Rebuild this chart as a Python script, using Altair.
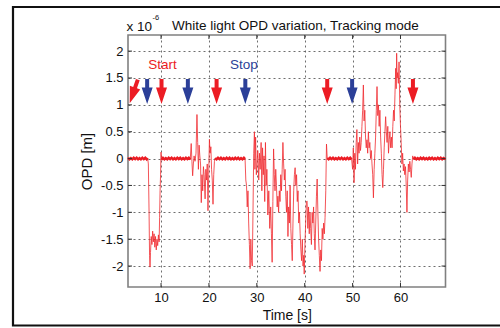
import altair as alt
import pandas as pd

# ---- data (OPD in units of 1e-6 m) ----
time_s = [
    3.1, 3.4, 3.7, 4.0, 4.3, 4.6, 4.9, 5.2, 5.5, 5.8, 6.1, 6.4, 6.7, 7.0, 7.2,
    7.35, 7.5, 7.6, 7.7, 7.8, 7.95, 8.1, 8.25, 8.4, 8.55, 8.7, 8.85, 9.0, 9.15, 9.3, 9.45, 9.6, 9.7, 9.8, 9.9, 10.0, 10.1,
    10.4, 10.7, 11.0, 11.3, 11.6, 11.9, 12.2, 12.5, 12.8, 13.1, 13.4, 13.7, 14.0, 14.3, 14.6, 14.9, 15.2, 15.5, 15.8, 16.1,
    16.3, 16.45, 16.6, 16.75, 16.9, 17.1, 17.3, 17.5, 17.65, 17.8, 17.95, 18.1, 18.25, 18.4, 18.55, 18.7, 18.85, 19.0,
    19.2, 19.35, 19.5, 19.65, 19.8, 19.95, 20.1, 20.25, 20.4, 20.55, 20.7, 20.85, 21.0, 21.15, 21.3,
    21.6, 21.9, 22.2, 22.5, 22.8, 23.1, 23.4, 23.7, 24.0, 24.3, 24.6, 24.9, 25.2, 25.5, 25.8, 26.1, 26.4, 26.7, 27.0, 27.3, 27.55,
    27.7, 27.85, 28.0, 28.15, 28.3, 28.45, 28.6, 28.75, 28.9, 29.05, 29.2, 29.35, 29.5, 29.6, 29.75, 29.9, 30.05, 30.2,
    30.4, 30.55, 30.7, 30.9, 31.05, 31.2, 31.35, 31.5, 31.65, 31.8, 31.95, 32.1, 32.3, 32.5, 32.7, 32.9, 33.05, 33.2,
    33.35, 33.5, 33.65, 33.8, 33.95, 34.1, 34.25, 34.4, 34.55, 34.7, 34.85, 35.0, 35.15, 35.3, 35.45, 35.6, 35.75, 35.9,
    36.05, 36.2, 36.35, 36.5, 36.65, 36.8, 36.95, 37.1, 37.25, 37.4, 37.55, 37.7, 37.85, 38.0, 38.15, 38.3, 38.45, 38.6,
    38.75, 38.9, 39.05, 39.2, 39.35, 39.5, 39.65, 39.8, 39.9, 40.05, 40.2, 40.35, 40.5, 40.65, 40.8, 40.95, 41.1, 41.25,
    41.4, 41.55, 41.7, 41.85, 42.0, 42.15, 42.3, 42.45, 42.6, 42.75, 42.9, 43.05, 43.2, 43.35, 43.5, 43.65, 43.8, 43.95,
    44.1, 44.25, 44.4, 44.55, 44.7,
    45.0, 45.3, 45.6, 45.9, 46.2, 46.5, 46.8, 47.1, 47.4, 47.7, 48.0, 48.3, 48.6, 48.9, 49.2, 49.5, 49.8,
    50.0, 50.15, 50.3, 50.45, 50.6, 50.75, 50.9, 51.05, 51.2, 51.35, 51.5, 51.65, 51.8, 51.95, 52.1, 52.25, 52.4, 52.55,
    52.7, 52.85, 53.0, 53.15, 53.3, 53.45, 53.6, 53.75, 53.9, 54.05, 54.2, 54.35, 54.5, 54.65, 54.8, 54.95, 55.1, 55.25,
    55.4, 55.55, 55.7, 55.85, 56.0, 56.15, 56.3, 56.45, 56.6, 56.75, 56.9, 57.05, 57.2, 57.35, 57.5, 57.65, 57.8, 57.95,
    58.1, 58.25, 58.4, 58.55, 58.7, 58.85, 59.0, 59.1, 59.2, 59.3, 59.4, 59.55, 59.7, 59.85, 60.0, 60.15, 60.3, 60.45,
    60.6, 60.75, 60.9, 61.05, 61.2, 61.35, 61.5, 61.65, 61.8, 61.95, 62.1, 62.25, 62.4, 62.55, 62.7,
    63.0, 63.3, 63.6, 63.9, 64.2, 64.5, 64.8, 65.1, 65.4, 65.7, 66.0, 66.3, 66.6, 66.9, 67.2, 67.5, 67.8, 68.1, 68.4,
    68.7, 69.0, 69.4,
]
opd_um = [
    0.015, -0.015, 0.01, -0.015, 0.015, -0.01, 0.015, -0.015, 0.01, -0.015, 0.015, -0.01, 0.015, -0.015, 0.01,
    -0.1, -1.0, -1.8, -2.02, -1.75, -1.45, -1.6, -1.35, -1.55, -1.4, -1.65, -1.45, -1.7, -1.5, -1.62, -1.42, -1.55, -1.1, -0.6, -0.3, 0.12, -0.02,
    0.015, -0.015, 0.01, -0.015, 0.015, -0.01, 0.015, -0.015, 0.01, -0.015, 0.015, -0.01, 0.015, -0.015, 0.01, -0.015, 0.015, -0.01, 0.015, -0.015,
    0.28, -0.05, -0.32, -0.1, 0.05, -0.05, 0.1, 0.82, 0.3, -0.2, 0.25, 0.05, -0.1, -0.82, -0.3, -0.6, -0.15, -0.3,
    -0.75, -0.2, -0.4, -0.1, -0.97, -0.3, 0.36, 0.1, 0.22, -0.2, -0.4, -0.85, -0.3, -0.05, 0.01,
    -0.015, 0.015, -0.01, 0.015, -0.015, 0.01, -0.015, 0.015, -0.01, 0.015, -0.015, 0.01, -0.015, 0.015, -0.01, 0.015, -0.015, 0.01, -0.015, 0.015, -0.01,
    -0.4, -0.5, -0.9, -0.6, -1.2, -1.6, -2.05, -1.5, -1.9, -2.0, -1.0, 0.1, 0.5, -0.2, 0.4, -0.3, -0.1, 0.15,
    -0.4, 0.1, -0.2, 0.3, -0.6, 0.2, -0.3, 0.05, -0.8, 0.3, -0.5, -0.2, -1.05, -0.6, -1.3, -0.9, -1.4, -1.93,
    -0.8, 0.18, -0.3, -0.6, -0.2, -0.5, -0.9, -0.7, -1.0, -0.6, -0.8, -0.3, -0.6, -0.2, 0.3, -0.1, -0.4, -0.2,
    -0.7, -1.0, -0.6, -1.45, -0.9, -1.2, -0.5, -1.3, -1.6, -1.9, -1.2, -0.6, -0.3, -0.17, -0.5, -0.3, -0.8, -0.6,
    -1.2, -1.0, -1.4, -1.7, -1.9, -1.5, -2.0, -1.8, -2.15, -1.6, -1.2, -0.8, -0.79, -1.3, -0.9, -1.4, -1.0, -1.3,
    -1.6, -1.0, -1.2, -0.9, -1.4, -1.7, -1.2, -0.7, -0.38, -1.0, -1.5, -1.8, -2.1, -1.7, -1.9, -1.3, -1.5, -1.2,
    -1.4, -1.1, -0.6, 0.27, 0.01,
    -0.015, 0.015, -0.01, 0.015, -0.015, 0.01, -0.015, 0.015, -0.01, 0.015, -0.015, 0.01, -0.015, 0.015, -0.01, 0.015, -0.015,
    -0.2, 0.2, -0.45, 0.1, -0.2, 0.3, 0.54, -0.1, 0.3, 0.1, 0.4, 0.15, 0.3, 0.6, 0.9, 1.37, 0.7, 0.9,
    0.4, 0.2, 0.35, 0.1, 0.5, 0.2, 0.3, 0.0, 0.15, -0.1, -0.3, -0.73, -0.2, 0.1, 0.4, 0.9, 1.34, 0.8,
    1.0, 0.6, 0.9, 0.4, 0.1, -0.3, -0.54, -0.2, 0.2, 0.5, 0.78, 0.5, 0.3, 0.6, 0.1, 0.35, 0.5, 0.2,
    0.4, 0.2, 0.6, 0.9, 0.7, 1.2, 1.68, 1.3, 1.96, 1.5, 1.6, 1.4, 1.8, 1.0, 0.6, 0.3, -0.1, 0.1,
    -0.23, -0.1, -0.3, -0.15, -0.5, -1.0, -0.4, -0.1, -0.25, -0.05, -0.2, -0.35, -0.1, 0.05, -0.01,
    0.015, -0.015, 0.01, -0.015, 0.015, -0.01, 0.015, -0.015, 0.01, -0.015, 0.015, -0.01, 0.015, -0.015, 0.01, -0.015, 0.015, -0.01, 0.015,
    -0.015, 0.01, -0.01,
]

# quiet (tracking-locked) spans where the trace is a thick flat band
quiet_start = [3.1, 10.1, 21.3, 44.7, 62.7]
quiet_end = [7.2, 16.1, 27.55, 49.8, 69.4]

arrow_t = [4.3, 7.1, 10.1, 15.6, 21.6, 27.6, 44.7, 49.9, 62.6]
arrow_kind = ["start", "stop", "start", "stop", "start", "stop", "start", "stop", "start"]
arrow_angle = [19, 0, 0, 0, 0, 0, 0, 0, 0]
arrow_level = [1.25, 1.25, 1.25, 1.25, 1.25, 1.25, 1.25, 1.25, 1.25]

label_text = ["Start", "Stop"]
label_kind = ["start", "stop"]
label_t = [10.3, 27.3]
label_y = [1.75, 1.75]

x_ticks = [10, 20, 30, 40, 50, 60]
y_ticks = [-2, -1.5, -1, -0.5, 0, 0.5, 1, 1.5, 2]

RED = "#ec1c24"
BLUE = "#2b3f98"
FONT = "Liberation Sans"
W, H = 317.5, 252

sig = pd.DataFrame({"t": time_s, "v": opd_um})
parts = []
for i, (a, b) in enumerate(zip(quiet_start, quiet_end)):
    p = sig[(sig.t >= a) & (sig.t <= b)].copy()
    p["seg"] = i
    parts.append(p)
quiet = pd.concat(parts, ignore_index=True)

arrows = pd.DataFrame({"t": arrow_t, "kind": arrow_kind, "ang": arrow_angle, "v": arrow_level})
labels = pd.DataFrame({"t": label_t, "v": label_y, "txt": label_text, "kind": label_kind})
xt = pd.DataFrame({"t": x_ticks})
yt = pd.DataFrame({"v": y_ticks})
one = pd.DataFrame({"k": [0]})

xscale = alt.Scale(domain=[3.1, 69.4], nice=False, zero=False)
yscale = alt.Scale(domain=[-2.39, 2.3], nice=False, zero=False)
cscale = alt.Scale(domain=["start", "stop"], range=[RED, BLUE])

x_axis = alt.Axis(values=x_ticks, title="Time [s]", grid=True, ticks=False, domain=False,
                  labelPadding=4, titlePadding=4, titleFontSize=14,
                  labelFontSize=13, format="d", labelOverlap=False)
y_axis = alt.Axis(values=y_ticks, title="OPD [m]", grid=True, ticks=False, domain=False,
                  labelPadding=5, titlePadding=6, titleFontSize=15,
                  labelFontSize=13, labelExpr="toString(datum.value)", labelOverlap=False)


def X(f):
    return alt.X(f, scale=xscale, axis=x_axis)


def Y(f):
    return alt.Y(f, scale=yscale, axis=y_axis)


line = alt.Chart(sig).mark_line(color="#f02a30", strokeWidth=1.0, opacity=0.8).encode(
    x=X("t:Q"), y=Y("v:Q"),
)
quiet_line = alt.Chart(quiet).mark_line(color=RED, strokeWidth=2.4).encode(
    x=X("t:Q"), y=Y("v:Q"), detail="seg:N",
)

arrow_path = "M -0.16 -1 L 0.16 -1 L 0.16 -0.32 L 0.44 -0.32 L 0 1 L -0.44 -0.32 L -0.16 -0.32 Z"
arrow_marks = alt.Chart(arrows).mark_point(shape=arrow_path, filled=True, size=625, opacity=1,
                                           strokeWidth=0).encode(
    x=X("t:Q"), y=Y("v:Q"),
    angle=alt.Angle("ang:Q", scale=None),
    color=alt.Color("kind:N", scale=cscale, legend=None),
)

label_marks = alt.Chart(labels).mark_text(font=FONT, fontSize=13.5, align="center", baseline="middle").encode(
    x=X("t:Q"), y=Y("v:Q"),
    text="txt:N",
    color=alt.Color("kind:N", scale=cscale, legend=None),
)

tick_color = "#333"
left_ticks = alt.Chart(yt).mark_rule(color=tick_color).encode(
    y=Y("v:Q"), x=alt.value(0), x2=alt.value(4))
right_ticks = alt.Chart(yt).mark_rule(color=tick_color).encode(
    y=Y("v:Q"), x=alt.value(W - 4), x2=alt.value(W))
bottom_ticks = alt.Chart(xt).mark_rule(color=tick_color).encode(
    x=X("t:Q"), y=alt.value(H - 4), y2=alt.value(H))
top_ticks = alt.Chart(xt).mark_rule(color=tick_color).encode(
    x=X("t:Q"), y=alt.value(0), y2=alt.value(4))

frame = alt.Chart(one).mark_rect(filled=False, stroke="#111", strokeWidth=2.2).encode(
    x=alt.value(-115), x2=alt.value(390), y=alt.value(-28), y2=alt.value(290.5))

exp_base = alt.Chart(one).mark_text(text="x 10", font=FONT, fontSize=13.5, align="left",
                                    baseline="alphabetic", color="#111").encode(
    x=alt.value(-1.5), y=alt.value(-4.5))
exp_sup = alt.Chart(one).mark_text(text="-6", font=FONT, fontSize=7.5, align="left",
                                   baseline="alphabetic", color="#111").encode(
    x=alt.value(24.5), y=alt.value(-15))
title = alt.Chart(one).mark_text(text="White light OPD variation, Tracking mode", font=FONT,
                                 fontSize=13.5, align="left", baseline="alphabetic",
                                 color="#111").encode(
    x=alt.value(44), y=alt.value(-5))

chart = alt.layer(
    line, frame, quiet_line, left_ticks, right_ticks, bottom_ticks, top_ticks,
    arrow_marks, label_marks, exp_base, exp_sup, title,
).properties(
    width=W, height=H,
    padding={"left": 128, "top": 35, "right": 54.5, "bottom": 41},
    autosize=alt.AutoSizeParams(type="none"),
    background="white",
).configure_view(
    stroke="#808080", strokeWidth=1.6,
).configure_axis(
    gridColor="#555", gridDash=[2, 3], gridWidth=1, gridOpacity=0.85,
    labelFont=FONT, titleFont=FONT, labelColor="#111", titleColor="#111",
    titleFontWeight="normal",
)

chart.save("out.html", embed_options={"renderer": "svg", "actions": False})
